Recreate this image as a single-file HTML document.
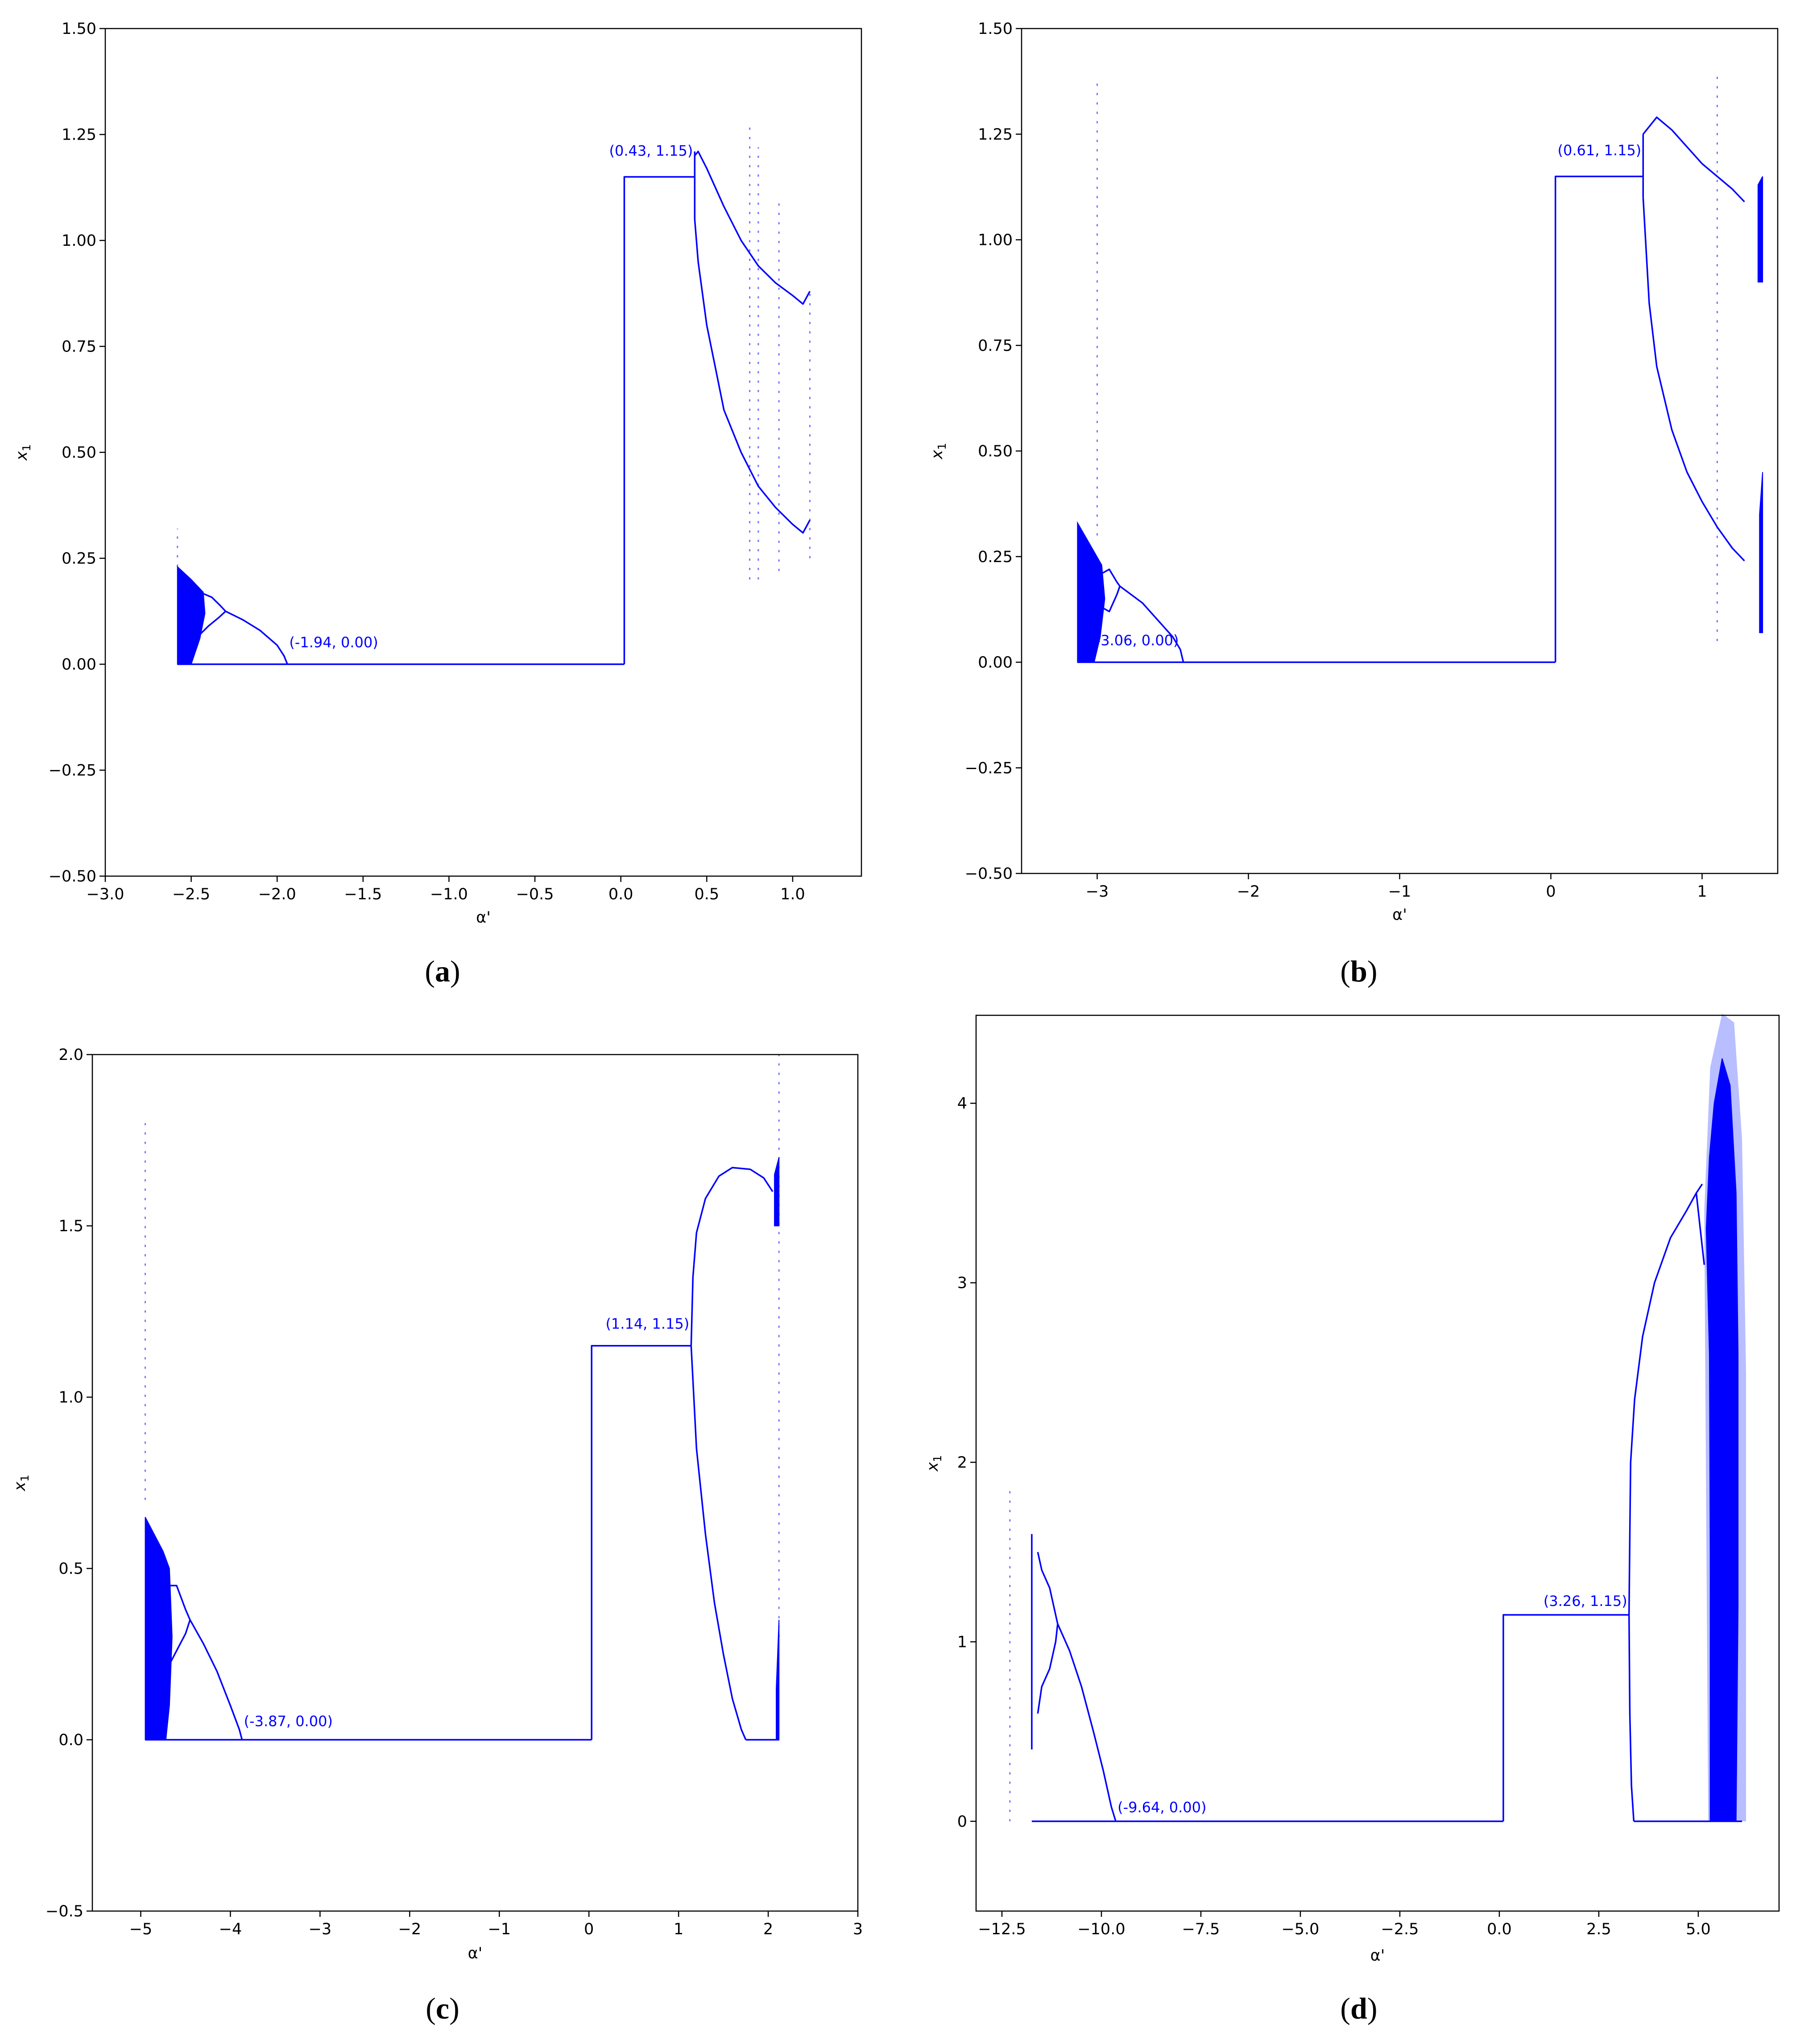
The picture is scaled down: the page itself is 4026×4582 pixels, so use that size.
<!DOCTYPE html>
<html><head><meta charset="utf-8"><style>
html,body{margin:0;padding:0;background:#fff}
svg{display:block}
</style></head><body>
<svg id="fig" xmlns="http://www.w3.org/2000/svg" width="4026" height="4582" viewBox="0 0 4026 4582" font-family="DejaVu Sans, Liberation Sans, sans-serif"></svg>
<script>
// ---------- Panel A data ----------
const aXTicks=[-3,-2.5,-2,-1.5,-1,-0.5,0,0.5,1];
const aYTicks=[-0.5,-0.25,0,0.25,0.5,0.75,1,1.25,1.5];
const aBaseline=[[-2.58,0],[0.02,0]];
const aRise=[[0.02,0],[0.02,1.15],[0.43,1.15]];
const aJump=[[0.43,1.05],[0.43,1.21]];
const aUpper=[[0.43,1.2],[0.45,1.21],[0.5,1.17],[0.6,1.08],[0.7,1.0],[0.8,0.94],[0.9,0.9],[1.0,0.87],[1.06,0.85],[1.1,0.88]];
const aLower=[[0.43,1.05],[0.45,0.95],[0.5,0.8],[0.55,0.7],[0.6,0.6],[0.7,0.5],[0.8,0.42],[0.9,0.37],[1.0,0.33],[1.06,0.31],[1.1,0.34]];
const aMain=[[-2.3,0.125],[-2.2,0.105],[-2.1,0.08],[-2.0,0.045],[-1.96,0.02],[-1.94,0]];
const aLoopUp=[[-2.45,0.17],[-2.38,0.158],[-2.33,0.138],[-2.3,0.125]];
const aLoopLo=[[-2.45,0.07],[-2.4,0.09],[-2.34,0.11],[-2.3,0.125]];
const aBand=[[-2.58,0],[-2.58,0.23],[-2.5,0.2],[-2.43,0.17],[-2.42,0.12],[-2.45,0.06],[-2.5,0]];
const aDots=[[0.75,0.2,1.27],[0.8,0.2,1.22],[0.92,0.22,1.1],[1.1,0.25,0.88],[-2.58,0.23,0.32]];
const aLabels=[[-1.94,0.04,"(-1.94, 0.00)","start"],[0.43,1.2,"(0.43, 1.15)","end"]];
// ---------- Panel B data ----------
const bXTicks=[-3,-2,-1,0,1];
const bYTicks=[-0.5,-0.25,0,0.25,0.5,0.75,1,1.25,1.5];
const bBaseline=[[-3.13,0],[0.03,0]];
const bRise=[[0.03,0],[0.03,1.15],[0.61,1.15]];
const bJump=[[0.61,1.1],[0.61,1.25]];
const bUpper=[[0.61,1.25],[0.7,1.29],[0.8,1.26],[1.0,1.18],[1.2,1.12],[1.28,1.09]];
const bLower=[[0.61,1.1],[0.65,0.85],[0.7,0.7],[0.8,0.55],[0.9,0.45],[1.0,0.38],[1.1,0.32],[1.2,0.27],[1.28,0.24]];
const bMain=[[-2.85,0.18],[-2.7,0.14],[-2.6,0.1],[-2.5,0.06],[-2.45,0.03],[-2.43,0]];
const bLoopUp=[[-2.97,0.21],[-2.92,0.22],[-2.87,0.19],[-2.85,0.18]];
const bLoopLo=[[-2.97,0.13],[-2.92,0.12],[-2.87,0.16],[-2.85,0.18]];
const bBand=[[-3.13,0],[-3.13,0.33],[-3.05,0.28],[-2.97,0.23],[-2.95,0.15],[-2.98,0.06],[-3.02,0]];
const bEdgeHi=[[1.37,0.9],[1.4,0.9],[1.4,1.15],[1.37,1.13]];
const bEdgeLo=[[1.38,0.07],[1.4,0.07],[1.4,0.45],[1.38,0.35]];
const bDots=[[-3.0,0.3,1.37],[1.1,0.05,1.4]];
const bLabels=[[-3.06,0.04,"(-3.06, 0.00)","start"],[0.61,1.2,"(0.61, 1.15)","end"]];
// ---------- Panel C data ----------
const cXTicks=[-5,-4,-3,-2,-1,0,1,2,3];
const cYTicks=[-0.5,0,0.5,1,1.5,2];
const cBaseline=[[-4.95,0],[0.03,0]];
const cRise=[[0.03,0],[0.03,1.15],[1.14,1.15]];
const cUpper=[[1.14,1.15],[1.16,1.35],[1.2,1.48],[1.3,1.58],[1.45,1.645],[1.6,1.67],[1.8,1.665],[1.95,1.64],[2.05,1.6]];
const cLower=[[1.14,1.15],[1.2,0.85],[1.3,0.6],[1.4,0.4],[1.5,0.25],[1.6,0.12],[1.7,0.03],[1.75,0]];
const cBase2=[[1.75,0],[2.12,0]];
const cMain=[[-4.45,0.35],[-4.3,0.28],[-4.15,0.2],[-4.0,0.1],[-3.9,0.03],[-3.87,0]];
const cLoopUp=[[-4.68,0.45],[-4.6,0.45],[-4.5,0.38],[-4.45,0.35]];
const cLoopLo=[[-4.68,0.22],[-4.6,0.26],[-4.5,0.31],[-4.45,0.35]];
const cBand=[[-4.95,0],[-4.95,0.65],[-4.85,0.6],[-4.75,0.55],[-4.68,0.5],[-4.65,0.3],[-4.68,0.1],[-4.72,0]];
const cEdgeHi=[[2.07,1.5],[2.12,1.5],[2.12,1.7],[2.07,1.65]];
const cEdgeLo=[[2.09,0],[2.12,0],[2.12,0.35],[2.09,0.15]];
const cDots=[[-4.95,0.7,1.8],[2.12,0.3,2.0]];
const cLabels=[[-3.87,0.04,"(-3.87, 0.00)","start"],[1.14,1.2,"(1.14, 1.15)","end"]];
// ---------- Panel D data ----------
const dXTicks=[-12.5,-10,-7.5,-5,-2.5,0,2.5,5];
const dYTicks=[0,1,2,3,4];
const dBaseline=[[-11.75,0],[0.1,0]];
const dRise=[[0.1,0],[0.1,1.15],[3.26,1.15]];
const dUpper=[[3.26,1.15],[3.28,1.6],[3.3,2.0],[3.4,2.35],[3.6,2.7],[3.9,3.0],[4.3,3.25],[4.7,3.4],[4.95,3.5],[5.1,3.55]];
const dLower=[[3.26,1.15],[3.28,0.6],[3.32,0.2],[3.38,0]];
const dBase2=[[3.38,0],[6.1,0]];
const dLeftV=[[-11.75,0.4],[-11.75,1.6]];
const dLoopUp=[[-11.6,1.5],[-11.5,1.4],[-11.3,1.3],[-11.15,1.15],[-11.1,1.1]];
const dLoopLo=[[-11.6,0.6],[-11.5,0.75],[-11.3,0.85],[-11.15,1.0],[-11.1,1.1]];
const dMain=[[-11.1,1.1],[-10.8,0.95],[-10.5,0.75],[-10.2,0.5],[-9.95,0.28],[-9.75,0.08],[-9.64,0]];
const dFork=[[4.95,3.5],[5.05,3.3],[5.15,3.1]];
const dHalo=[[5.25,0],[6.2,0],[6.2,2.5],[6.1,3.8],[5.9,4.45],[5.6,4.5],[5.3,4.2],[5.15,3.4]];
const dBand=[[5.3,0],[5.95,0],[6.0,1.2],[6.0,2.6],[5.95,3.5],[5.8,4.1],[5.6,4.25],[5.4,4.0],[5.28,3.7],[5.2,3.3],[5.28,2.6],[5.3,1.5]];
const dDots=[[-12.3,0,1.85]];
const dLabels=[[-9.64,0.05,"(-9.64, 0.00)","start"],[3.26,1.2,"(3.26, 1.15)","end"]];

const NS="http://www.w3.org/2000/svg";
const svg=document.getElementById('fig');
function mk(tag,attrs,parent){const e=document.createElementNS(NS,tag);for(const k in attrs)e.setAttribute(k,attrs[k]);(parent||svg).appendChild(e);return e;}
function fmt(v,dec){const s=Math.abs(v).toFixed(dec);return (v<0?"\u2212":"")+s;}

function panel(p){
  const g=mk('g',{});
  
  
  const X=v=>p.L+(v-p.x0)/(p.x1-p.x0)*(p.R-p.L);
  const Y=v=>p.B-(v-p.y0)/(p.y1-p.y0)*(p.B-p.T);
  const pts=a=>a.map(q=>X(q[0]).toFixed(1)+','+Y(q[1]).toFixed(1)).join(' ');
  (p.halos||[]).forEach(h=>{const e=mk('polygon',{points:pts(h),fill:'#3344ff','fill-opacity':'0.35',stroke:'none'},g);
    
    });
  p.bands.forEach(b=>{const e=mk('polygon',{points:pts(b),fill:'#0000ff',stroke:'#0000ff','stroke-width':2},g);
    
    });
  p.lines.forEach(l=>{const e=mk('polyline',{points:pts(l),fill:'none',stroke:'#0000ff','stroke-width':3.5,'stroke-linejoin':'round'},g);
    
    });
  p.dots.forEach(d=>{const e=mk('line',{x1:X(d[0]),x2:X(d[0]),y1:Y(d[1]),y2:Y(d[2]),stroke:'#0000ff','stroke-width':3,'stroke-dasharray':'5 16','stroke-opacity':0.55},g);
    
    });
  p.labels.forEach(l=>{const e=mk('text',{x:X(l[0])+(l[3]==='start'?4:-4),y:Y(l[1]),'font-size':32,fill:'#0000ff','text-anchor':l[3]},g);e.textContent=l[2];
    
    });
  const f=mk('rect',{x:p.L,y:p.T,width:p.R-p.L,height:p.B-p.T,fill:'none',stroke:'#000','stroke-width':2.5},g);
  
  
  p.xt.forEach(v=>{const x=X(v);mk('line',{x1:x,x2:x,y1:p.B,y2:p.B+13,stroke:'#000','stroke-width':2.5},g);
    const t=mk('text',{x:x,y:p.B+52,'font-size':35,'text-anchor':'middle',fill:'#000'},g);t.textContent=fmt(v,p.xd);
    
    });
  p.yt.forEach(v=>{const y=Y(v);mk('line',{x1:p.L-13,x2:p.L,y1:y,y2:y,stroke:'#000','stroke-width':2.5},g);
    const t=mk('text',{x:p.L-20,y:y+12,'font-size':35,'text-anchor':'end',fill:'#000'},g);t.textContent=fmt(v,p.yd);
    
    });
  const xl=mk('text',{x:(p.L+p.R)/2,y:p.xly,'font-size':35,'text-anchor':'middle',fill:'#000'},g);xl.textContent="\u03b1'";
  
  
  const yc=(p.T+p.B)/2;
  const yl=mk('text',{x:0,y:0,'font-size':35,fill:'#000','font-style':'italic',transform:`translate(${p.ylx},${yc}) rotate(-90)`,'text-anchor':'middle'},g);
  yl.innerHTML='x<tspan font-size="25" dy="8" font-style="normal">1</tspan>';
  
  
  const cap=mk('text',{x:p.cx,y:p.cy,'font-size':68,'text-anchor':'middle',fill:'#000',style:'font-family:"Liberation Serif",serif'},g);
  cap.innerHTML='(<tspan font-weight="bold">'+p.id+'</tspan>)';
  
  
}
panel({id:'a',L:236,R:1931,T:64,B:1964,x0:-3,x1:1.4,y0:-0.5,y1:1.5,xt:aXTicks,yt:aYTicks,xd:1,yd:2,
  lines:[aBaseline,aRise,aJump,aUpper,aLower,aMain,aLoopUp,aLoopLo],bands:[aBand],dots:aDots,labels:aLabels,
  xly:2068,ylx:60,cx:992,cy:2200});
panel({id:'b',L:2290,R:3985,T:64,B:1958,x0:-3.5,x1:1.5,y0:-0.5,y1:1.5,xt:bXTicks,yt:bYTicks,xd:0,yd:2,
  lines:[bBaseline,bRise,bJump,bUpper,bLower,bMain,bLoopUp,bLoopLo],bands:[bBand,bEdgeHi,bEdgeLo],dots:bDots,labels:bLabels,
  xly:2062,ylx:2112,cx:3046,cy:2200});
panel({id:'c',L:207,R:1923,T:2364,B:4284,x0:-5.54,x1:3,y0:-0.5,y1:2,xt:cXTicks,yt:cYTicks,xd:0,yd:1,
  lines:[cBaseline,cRise,cUpper,cLower,cBase2,cMain,cLoopUp,cLoopLo],bands:[cBand,cEdgeHi,cEdgeLo],dots:cDots,labels:cLabels,
  xly:4390,ylx:56,cx:992,cy:4525});
panel({id:'d',L:2188,R:3988,T:2276,B:4284,x0:-13.15,x1:7.03,y0:-0.5,y1:4.49,xt:dXTicks,yt:dYTicks,xd:1,yd:0,
  lines:[dBaseline,dRise,dUpper,dLower,dBase2,dLeftV,dLoopUp,dLoopLo,dMain,dFork],bands:[dBand],halos:[dHalo],dots:dDots,labels:dLabels,
  xly:4395,ylx:2102,cx:3046,cy:4525});
</script>
</body></html>
